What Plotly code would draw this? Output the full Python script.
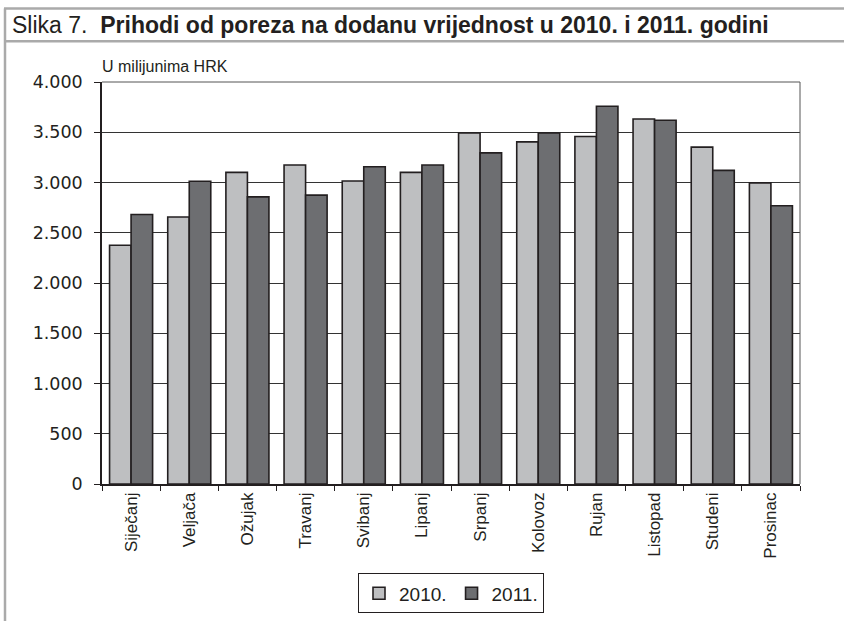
import plotly.graph_objects as go

months = ["Siječanj", "Veljača", "Ožujak", "Travanj", "Svibanj", "Lipanj",
          "Srpanj", "Kolovoz", "Rujan", "Listopad", "Studeni", "Prosinac"]
v2010 = [2375, 2656, 3101, 3174, 3015, 3101, 3493, 3404, 3458, 3632, 3352, 2996]
v2011 = [2682, 3012, 2857, 2874, 3157, 3174, 3295, 3493, 3758, 3619, 3121, 2768]
ytick_vals = [0, 500, 1000, 1500, 2000, 2500, 3000, 3500, 4000]
ytick_text = ["0", "500", "1.000", "1.500", "2.000", "2.500", "3.000", "3.500", "4.000"]

FONT = "Liberation Sans, Arial, sans-serif"
NUMFONT = "DejaVu Sans, sans-serif"

W, H = 844, 625
L, R, T, B = 102, 44, 82, 138
PW, PH = W - L - R, H - T - B


def px(x):
    return (x - L) / PW


def py(y):
    return (H - B - y) / PH


fig = go.Figure()
fig.add_trace(go.Bar(x=months, y=v2010, name="2010.",
                     marker=dict(color="#BEBFC1", line=dict(color="#231F20", width=1.6))))
fig.add_trace(go.Bar(x=months, y=v2011, name="2011.",
                     marker=dict(color="#6D6E71", line=dict(color="#231F20", width=1.6))))

fig.update_layout(
    width=W, height=H,
    margin=dict(l=L, r=R, t=T, b=B),
    paper_bgcolor="white", plot_bgcolor="white",
    barmode="group", bargap=0.26, bargroupgap=0,
    font=dict(family=FONT, color="#231F20"),
    showlegend=True,
    legend=dict(orientation="h", x=0.5, xanchor="center", y=py(577), yanchor="top",
                bordercolor="#231F20", borderwidth=1,
                font=dict(family=FONT, size=19),
                itemwidth=30, traceorder="normal"),
    xaxis=dict(type="category", tickangle=-90, tickfont=dict(size=17),
               showline=True, linecolor="#231F20", linewidth=1.5,
               ticks="outside", tickson="boundaries", ticklen=5, tickcolor="#231F20",
               mirror=False, showgrid=False),
    yaxis=dict(range=[0, 4000], tickvals=ytick_vals, ticktext=ytick_text,
               tickfont=dict(family=NUMFONT, size=17.5), showgrid=True,
               gridcolor="#333333", gridwidth=1.3, ticklabelstandoff=8,
               showline=True, linecolor="#231F20", linewidth=1.5,
               ticks="outside", ticklen=6, tickcolor="#231F20", zeroline=False),
    shapes=[
        dict(type="line", xref="paper", yref="paper", x0=1, x1=1, y0=0, y1=1,
             line=dict(color="#555555", width=1)),
        dict(type="line", xref="paper", yref="paper", x0=0, x1=1, y0=1, y1=1,
             line=dict(color="#555555", width=1)),
        dict(type="line", xref="paper", yref="paper",
             x0=px(4), x1=px(W), y0=py(8), y1=py(8),
             line=dict(color="#AAAAAA", width=2.5)),
        dict(type="line", xref="paper", yref="paper",
             x0=px(4), x1=px(W), y0=py(41), y1=py(41),
             line=dict(color="#AAAAAA", width=2.5)),
        dict(type="line", xref="paper", yref="paper",
             x0=px(5), x1=px(5), y0=py(H), y1=py(8),
             line=dict(color="#AAAAAA", width=2.5)),
    ],
    annotations=[
        dict(xref="paper", yref="paper", x=px(10), y=py(25),
             xanchor="left", yanchor="middle", showarrow=False,
             text="Slika 7.  <b>Prihodi od poreza na dodanu vrijednost u 2010. i 2011. godini</b>",
             font=dict(family=FONT, size=23, color="#231F20")),
        dict(xref="paper", yref="paper", x=px(100), y=py(66),
             xanchor="left", yanchor="middle", showarrow=False,
             text="U milijunima HRK", font=dict(size=16, color="#231F20")),
    ],
)

fig.write_html("out.html", config={"displayModeBar": False},
               post_script="document.body.style.margin='0';document.body.style.overflow='hidden';")
